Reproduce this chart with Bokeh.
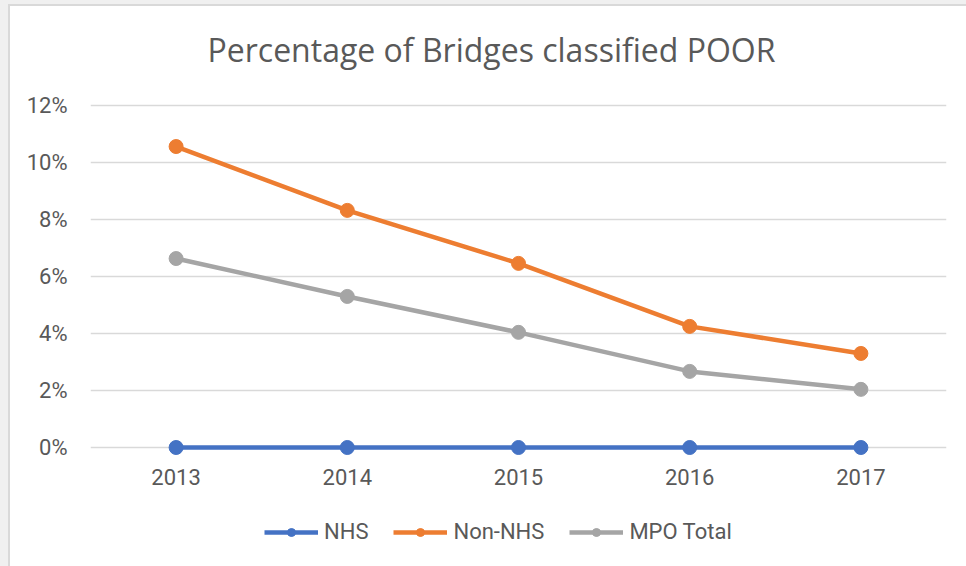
from bokeh.plotting import figure
from bokeh.models import (FactorRange, Range1d, FixedTicker, NumeralTickFormatter,
                          Legend, LegendItem)
from bokeh.embed import file_html
from bokeh.resources import INLINE

years = ["2013", "2014", "2015", "2016", "2017"]
nhs = [0.0, 0.0, 0.0, 0.0, 0.0]
non_nhs = [0.1056, 0.0832, 0.0646, 0.0425, 0.0330]
mpo_total = [0.0663, 0.0530, 0.0404, 0.0267, 0.0204]
y_ticks = [0.0, 0.02, 0.04, 0.06, 0.08, 0.10, 0.12]
title_text = "Percentage of Bridges classified POOR"
series_names = ["NHS", "Non-NHS", "MPO Total"]
series_colors = ["#4472C4", "#ED7D31", "#A5A5A5"]

TXT = "#595959"
LBL_FONT = "Roboto"

px_per_unit = 2850.0
p = figure(frame_width=856, frame_height=472,
           x_range=FactorRange(*years, range_padding=0),
           y_range=Range1d(-120 / px_per_unit, 0.12 + 10 / px_per_unit),
           output_backend="svg",
           toolbar_location=None, title=title_text,
           min_border_left=90, min_border_right=20, min_border_top=94,
           min_border_bottom=0,
           styles={"background-color": "white",
                   "box-shadow": "inset 8px 4px 0 0 #f0f0f0, inset 10px 6px 0 0 #d9d9d9"})
p.outline_line_color = None
p.background_fill_color = "white"
p.border_fill_alpha = 0

p.title.align = "left"
p.title.offset = 117
p.title.text_font = "Open Sans"
p.title.text_font_size = "32px"
p.title.text_font_style = "normal"
p.title.text_color = TXT
p.title.standoff = 50

p.xgrid.grid_line_color = None
p.ygrid.grid_line_color = "#D9D9D9"
p.ygrid.grid_line_width = 1.5
p.yaxis.ticker = FixedTicker(ticks=y_ticks)
p.yaxis.formatter = NumeralTickFormatter(format="0%")

for ax in (p.xaxis[0], p.yaxis[0]):
    ax.axis_line_color = None
    ax.major_tick_line_color = None
    ax.minor_tick_line_color = None
    ax.major_tick_out = 0
    ax.major_tick_in = 0
    ax.major_label_text_color = TXT
    ax.major_label_text_font = LBL_FONT
    ax.major_label_text_font_size = "22px"
p.xaxis.fixed_location = 0
p.xaxis.major_label_standoff = 21
p.yaxis.major_label_standoff = 23

items = []
for name, vals, col in zip(series_names, [nhs, non_nhs, mpo_total], series_colors):
    r1 = p.line(years, vals, line_color=col, line_width=4.5)
    r2 = p.scatter(years, vals, marker="circle", size=14, fill_color=col,
                   line_color=col)
    items.append(LegendItem(label=name, renderers=[r1, r2]))

legend = Legend(items=items, orientation="horizontal", location=(174, 23),
                glyph_width=54, glyph_height=20, label_height=20,
                label_standoff=6, spacing=25, padding=0, margin=0,
                border_line_color=None, background_fill_alpha=0,
                label_text_font=LBL_FONT, label_text_font_size="22px",
                label_text_color=TXT)
p.add_layout(legend, "center")

open("out.html", "w").write(file_html(p, INLINE))
